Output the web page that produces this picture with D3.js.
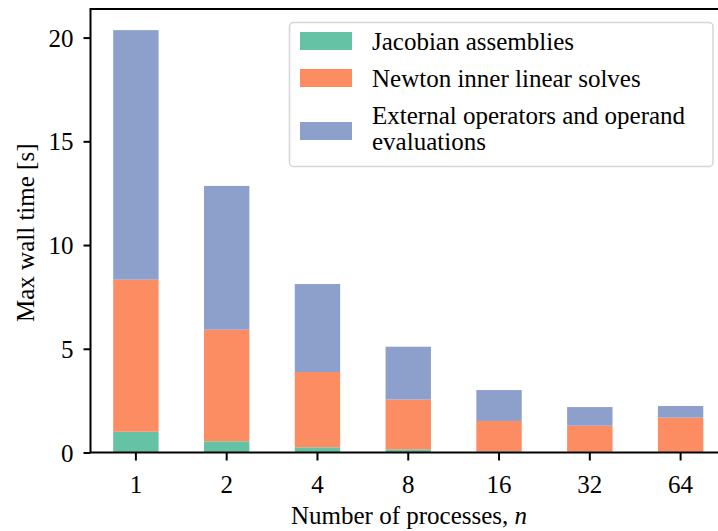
<!DOCTYPE html>
<html>
<head>
<meta charset="utf-8">
<script src="https://cdn.jsdelivr.net/npm/d3@7"></script>
<style>
  html, body { margin: 0; padding: 0; background: #fff; }
  svg { display: block; }
  text { font-family: "Liberation Serif", "DejaVu Serif", serif; fill: #000; }
</style>
</head>
<body>
<svg id="chart" width="718" height="531"></svg>
<script>
// ---- data ----
const categories = ["1", "2", "4", "8", "16", "32", "64"];
const seriesNames = ["Jacobian assemblies", "Newton inner linear solves", "External operators and operand evaluations"];
const jacobian = [1.00, 0.54, 0.25, 0.15, 0.05, 0.03, 0.02];
const newton   = [7.33, 5.38, 3.63, 2.40, 1.47, 1.26, 1.66];
const external = [12.03, 6.93, 4.24, 2.55, 1.49, 0.90, 0.56];
const yTicks = [0, 5, 10, 15, 20];
const colors = ["#66c2a5", "#fc8d62", "#8da0cb"];

// ---- layout ----
const svg = d3.select("#chart");
const mLeft = 90.5, mRight = 726, mTop = 9, mBottom = 452.5;
const fs = 25;

const table = categories.map((c, i) => ({cat: c, s0: jacobian[i], s1: newton[i], s2: external[i]}));
const stack = d3.stack().keys(["s0", "s1", "s2"])(table);
const ymax = d3.max(table, d => d.s0 + d.s1 + d.s2) * 1.05;

const x = d3.scaleBand().domain(categories).range([mLeft, mRight]).paddingInner(0.5).paddingOuter(0.25);
const y = d3.scaleLinear().domain([0, ymax]).range([mBottom, mTop]);

// bars
svg.append("g").selectAll("g").data(stack).join("g")
  .attr("fill", (d, i) => colors[i])
  .selectAll("rect").data(d => d).join("rect")
  .attr("x", d => x(d.data.cat))
  .attr("width", x.bandwidth())
  .attr("y", d => y(d[1]))
  .attr("height", d => y(d[0]) - y(d[1]));

// axes
const yAxis = svg.append("g").attr("transform", `translate(${mLeft},0)`)
  .call(d3.axisLeft(y).tickValues(yTicks).tickSize(7).tickPadding(10).tickFormat(d3.format("d")));
const xAxis = svg.append("g").attr("transform", `translate(0,${mBottom})`)
  .call(d3.axisBottom(x).tickSize(8).tickPadding(14));
[yAxis, xAxis].forEach(g => {
  g.select(".domain").remove();
  g.selectAll(".tick line").attr("stroke", "#000").attr("stroke-width", 2);
  g.selectAll(".tick text").attr("font-size", fs).attr("font-family", "Liberation Serif");
});
yAxis.selectAll(".tick text").attr("dy", "0.34em");
xAxis.selectAll(".tick text").attr("dy", "0.72em");

// spines
const sp = svg.append("g").attr("stroke", "#000").attr("stroke-width", 2).attr("fill", "none");
sp.append("rect").attr("x", mLeft).attr("y", mTop).attr("width", mRight - mLeft).attr("height", mBottom - mTop);

// axis labels
svg.append("text").attr("x", 409).attr("y", 524)
  .attr("text-anchor", "middle").attr("font-size", fs)
  .call(t => { t.append("tspan").text("Number of processes, "); t.append("tspan").attr("font-style", "italic").text("n"); });
svg.append("text").attr("transform", `translate(34,${(mTop + mBottom) / 2 + 2}) rotate(-90)`)
  .attr("text-anchor", "middle").attr("font-size", fs).text("Max wall time [s]");

// legend
const lg = svg.append("g");
lg.append("rect").attr("x", 289.5).attr("y", 22.5).attr("width", 423.5).attr("height", 144)
  .attr("rx", 4).attr("fill", "#fff").attr("fill-opacity", 0.8).attr("stroke", "#d6d6d6").attr("stroke-width", 1.5);
const patchY = [32, 69, 122];
const lines = [["Jacobian assemblies"], ["Newton inner linear solves"], ["External operators and operand", "evaluations"]];
const baseY = [49.5, 86.5, 123.5];
seriesNames.forEach((name, i) => {
  lg.append("rect").attr("x", 300).attr("y", patchY[i]).attr("width", 52).attr("height", 18).attr("fill", colors[i]);
  const t = lg.append("text").attr("x", 372).attr("y", baseY[i]).attr("font-size", fs);
  lines[i].forEach((ln, j) => t.append("tspan").attr("x", 372).attr("dy", j === 0 ? 0 : 26).text(ln));
});
</script>
</body>
</html>
